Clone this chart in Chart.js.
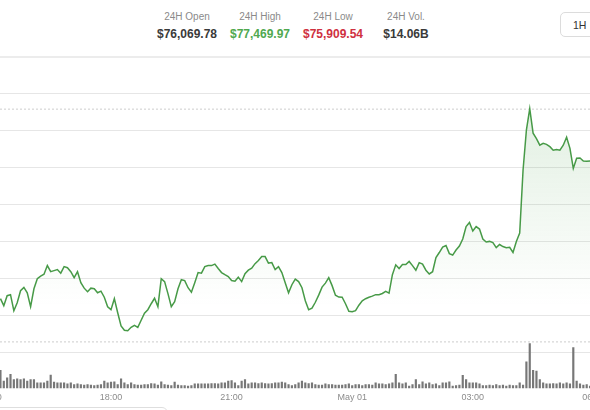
<!DOCTYPE html>
<html>
<head>
<meta charset="utf-8">
<script src="https://cdn.jsdelivr.net/npm/chart.js@4.4.1/dist/chart.umd.min.js"></script>
<style>
  html, body { margin: 0; padding: 0; background: #fff; }
  #wrap { position: relative; width: 590px; height: 410px; overflow: hidden; background: #fff;
          font-family: "Liberation Sans", Arial, sans-serif; }
  .stat { position: absolute; top: 11px; transform: translateX(-50%); text-align: center; white-space: nowrap; }
  .stat .lbl { font-size: 10px; line-height: 12px; color: #8a8a8a; }
  .stat .val { font-size: 12px; line-height: 14px; font-weight: bold; color: #3a3a3a; margin-top: 4px; }
  .divider { position: absolute; left: 0; top: 56px; width: 590px; height: 2px; background: #ececec; }
  .btn { position: absolute; left: 560px; top: 12px; width: 44px; height: 25px; border: 1px solid #dcdcdc;
         border-radius: 5px; font-size: 10.5px; line-height: 25px; color: #333; padding-left: 12px; box-sizing: border-box; }
  .nav { position: absolute; left: -10px; top: 407px; width: 176px; height: 20px; border: 1px solid #dedede; border-radius: 6px; }
  #chart { position: absolute; left: -40px; top: 60px; }
</style>
</head>
<body>
<div id="wrap">
  <div class="stat" style="left:187px"><div class="lbl">24H Open</div><div class="val">$76,069.78</div></div>
  <div class="stat" style="left:260px"><div class="lbl">24H High</div><div class="val" style="color:#4fa84f">$77,469.97</div></div>
  <div class="stat" style="left:333px"><div class="lbl">24H Low</div><div class="val" style="color:#cf3040">$75,909.54</div></div>
  <div class="stat" style="left:406px"><div class="lbl">24H Vol.</div><div class="val">$14.06B</div></div>
  <div class="btn">1H</div>
  <div class="divider"></div>
  <canvas id="chart" width="680" height="350"></canvas>
  <div class="nav"></div>
</div>
<script>
// 5-minute samples starting 15:15 (hours)
const START_HOUR = 15.25;
const STEP_HOUR = 1 / 12;

// BTC price, USD
const prices = [
  76115, 76068, 76135, 76142, 76034, 76088, 76169, 76191, 76155, 76061,
  76182, 76250, 76267, 76280, 76338, 76297, 76304, 76311, 76287, 76331,
  76324, 76297, 76257, 76297, 76223, 76186, 76162, 76186, 76182, 76155,
  76166, 76125, 76061, 76041, 76115, 76020, 75932, 75902, 75899, 75922,
  75936, 75922, 75970, 76017, 76041, 76081, 76118, 76061, 76250, 76230,
  76149, 76061, 76095, 76182, 76243, 76237, 76189, 76159, 76223, 76291,
  76287, 76331, 76338, 76338, 76348, 76318, 76291, 76277, 76264, 76237,
  76233, 76260, 76230, 76284, 76307, 76321, 76351, 76372, 76399, 76399,
  76355, 76358, 76311, 76331, 76291, 76223, 76155, 76209, 76247, 76230,
  76189, 76101, 76041, 76051, 76091, 76139, 76193, 76220, 76257, 76203,
  76139, 76126, 76125, 76081, 76030, 76027, 76034, 76071, 76101, 76115,
  76125, 76132, 76142, 76142, 76150, 76164, 76152, 76277, 76343, 76318,
  76345, 76345, 76366, 76338, 76307, 76358, 76348, 76307, 76282, 76297,
  76392, 76426, 76463, 76473, 76419, 76409, 76443, 76470, 76517, 76601,
  76628, 76571, 76601, 76584, 76517, 76497, 76501, 76493, 76459, 76480,
  76466, 76459, 76461, 76426, 76500, 76557, 76980, 77250, 77395, 77230,
  77193, 77149, 77162, 77155, 77139, 77115, 77120, 77115, 77149, 77203,
  77128, 76993, 77061, 77063, 77043, 77041, 77043
];

// volume per 5 minutes, USD millions
const volumes = [
  165, 69, 99, 129, 84, 90, 84, 90, 69, 84,
  84, 54, 54, 54, 69, 123, 60, 54, 54, 54,
  45, 54, 39, 45, 39, 33, 39, 33, 30, 33,
  39, 69, 54, 60, 63, 39, 90, 54, 39, 54,
  39, 33, 33, 39, 39, 48, 45, 33, 63, 39,
  33, 30, 60, 33, 30, 30, 24, 30, 45, 45,
  45, 45, 45, 48, 48, 45, 54, 54, 69, 75,
  54, 30, 69, 84, 45, 54, 54, 48, 54, 48,
  45, 48, 54, 54, 60, 54, 39, 30, 39, 54,
  69, 54, 48, 54, 39, 33, 33, 45, 39, 39,
  33, 33, 33, 39, 45, 30, 39, 39, 30, 39,
  39, 33, 54, 45, 45, 39, 45, 54, 129, 54,
  45, 54, 24, 39, 84, 39, 63, 45, 54, 39,
  45, 30, 54, 54, 63, 24, 30, 33, 120, 84,
  54, 54, 54, 45, 30, 30, 33, 30, 39, 30,
  33, 24, 33, 30, 30, 54, 33, 243, 405, 165,
  159, 84, 54, 45, 45, 48, 45, 54, 45, 54,
  45, 369, 69, 45, 33, 39, 24
];

// x axis labels (hour of day, continuing past midnight)
const tickHours = [15, 18, 21, 24, 27, 30];
const tickLabels = ["15:00", "18:00", "21:00", "May 01", "03:00", "06:00"];

// horizontal grid prices and dotted range lines
const gridPrices = [75750, 76000, 76250, 76500, 76750, 77000, 77250, 77500];
const rangeHigh = 77392;
const rangeLow = 75824;

const X_MIN = 14.2438, X_MAX = 31.1592;
const PRICE_MIN = 75510, PRICE_MAX = 77723;
const VOL_MAX = 2947;

const times = prices.map((_, i) => START_HOUR + i * STEP_HOUR);
const FONT = '"Liberation Sans", Arial, sans-serif';

function areaFill(context) {
  const { ctx, chartArea } = context.chart;
  if (!chartArea) return 'rgba(76,160,76,0.1)';
  const g = ctx.createLinearGradient(0, chartArea.top, 0, chartArea.bottom);
  g.addColorStop(0, 'rgba(76,160,76,0.20)');
  g.addColorStop(0.15, 'rgba(76,160,76,0.16)');
  g.addColorStop(0.6, 'rgba(76,160,76,0.04)');
  g.addColorStop(0.75, 'rgba(76,160,76,0)');
  return g;
}

const refLine = (v) => ({
  type: 'line',
  data: [{ x: X_MIN, y: v }, { x: X_MAX, y: v }],
  borderColor: '#cdcdcd',
  borderWidth: 1,
  borderDash: [2, 2],
  pointRadius: 0,
  fill: false,
  yAxisID: 'y',
  order: 3
});

new Chart(document.getElementById('chart'), {
  type: 'line',
  data: {
    datasets: [
      {
        type: 'line',
        data: times.map((t, i) => ({ x: t, y: prices[i] })),
        borderColor: '#479a47',
        borderWidth: 1.5,
        pointRadius: 0,
        tension: 0,
        fill: 'start',
        backgroundColor: areaFill,
        yAxisID: 'y',
        order: 0
      },
      {
        type: 'bar',
        data: times.map((t, i) => ({ x: t, y: volumes[i] })),
        backgroundColor: '#777777',
        barPercentage: 0.65,
        categoryPercentage: 1,
        yAxisID: 'vol',
        order: 2
      },
      refLine(rangeHigh),
      refLine(rangeLow)
    ]
  },
  options: {
    responsive: false,
    animation: false,
    layout: { padding: { top: 0, bottom: 2.7, left: 0, right: 0 } },
    plugins: { legend: { display: false }, tooltip: { enabled: false } },
    scales: {
      x: {
        type: 'linear',
        min: X_MIN,
        max: X_MAX,
        offset: false,
        grid: { display: false, drawTicks: false },
        border: { display: false },
        afterBuildTicks: (axis) => { axis.ticks = tickHours.map((v) => ({ value: v })); },
        ticks: {
          autoSkip: false,
          maxRotation: 0,
          padding: 4,
          color: '#8c8c8c',
          font: { family: FONT, size: 9 },
          callback: (v) => tickLabels[tickHours.indexOf(v)] || ''
        }
      },
      y: {
        type: 'linear',
        position: 'left',
        min: PRICE_MIN,
        max: PRICE_MAX,
        afterBuildTicks: (axis) => { axis.ticks = gridPrices.map((v) => ({ value: v })); },
        ticks: { display: false },
        grid: { color: '#e6e6e6', drawTicks: false },
        border: { display: false }
      },
      vol: {
        type: 'linear',
        display: false,
        min: 0,
        max: VOL_MAX
      }
    }
  }
});
</script>
</body>
</html>
